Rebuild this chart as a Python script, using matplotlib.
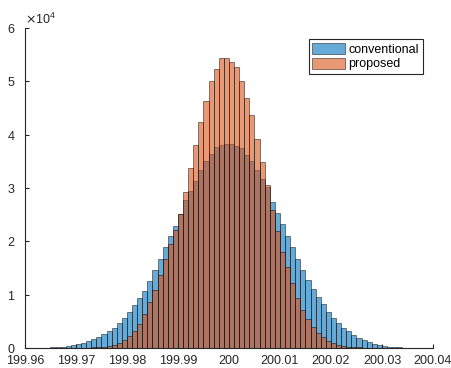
import numpy as np
import matplotlib
matplotlib.use("Agg")
import matplotlib.pyplot as plt
from matplotlib.ticker import ScalarFormatter

# bin edges: 0.001 wide, 199.96 .. 200.04
bin_start = 199.96
bin_width = 0.001

# counts per bin (x 1e4)
conventional = [
    0.001, 0.002, 0.003, 0.005, 0.008, 0.012, 0.018, 0.027, 0.04, 0.05,
    0.075, 0.10, 0.13, 0.16, 0.21, 0.26, 0.31, 0.37, 0.47, 0.56,
    0.67, 0.81, 0.93, 1.07, 1.26, 1.46, 1.67, 1.89, 2.10, 2.28,
    2.52, 2.77, 2.95, 3.13, 3.33, 3.51, 3.63, 3.76, 3.80, 3.83,
    3.82, 3.78, 3.74, 3.62, 3.50, 3.33, 3.16, 3.01, 2.74, 2.53,
    2.32, 2.10, 1.90, 1.67, 1.47, 1.27, 1.10, 0.95, 0.82, 0.68,
    0.57, 0.47, 0.38, 0.32, 0.24, 0.19, 0.15, 0.11, 0.075, 0.05,
    0.035, 0.025, 0.017, 0.011, 0.007, 0.005, 0.003, 0.002, 0.001, 0.001,
]
proposed = [
    0.0, 0.0, 0.0, 0.0, 0.0, 0.0, 0.0, 0.001, 0.001, 0.002,
    0.003, 0.005, 0.008, 0.012, 0.018, 0.026, 0.04, 0.06, 0.10, 0.15,
    0.22, 0.31, 0.45, 0.64, 0.86, 1.08, 1.36, 1.66, 1.95, 2.22,
    2.52, 2.92, 3.37, 3.80, 4.24, 4.63, 5.01, 5.22, 5.44, 5.44,
    5.36, 5.27, 5.01, 4.69, 4.36, 3.91, 3.49, 3.05, 2.58, 2.20,
    1.80, 1.52, 1.21, 0.94, 0.72, 0.54, 0.40, 0.29, 0.20, 0.14,
    0.09, 0.06, 0.04, 0.025, 0.015, 0.01, 0.005, 0.003, 0.002, 0.001,
    0.0, 0.0, 0.0, 0.0, 0.0, 0.0, 0.0, 0.0, 0.0, 0.0,
]

x_ticks = [199.96, 199.97, 199.98, 199.99, 200.0, 200.01, 200.02, 200.03, 200.04]
x_labels = ["199.96", "199.97", "199.98", "199.99", "200", "200.01", "200.02", "200.03", "200.04"]

plt.rcParams["font.family"] = ["Liberation Sans", "DejaVu Sans"]
plt.rcParams["font.size"] = 9

edges = bin_start + bin_width * np.arange(len(conventional))

fig = plt.figure(figsize=(4.51, 3.68), dpi=100)
ax = fig.add_axes([0.0554, 0.0543, 0.9046, 0.870])

blue = (0.0, 0.447, 0.741, 0.6)
orange = (0.85, 0.325, 0.098, 0.6)
edge = (0.0, 0.0, 0.0, 0.55)

ax.bar(edges, np.array(conventional) * 1e4, width=bin_width, align="edge",
       color=blue, edgecolor=edge, linewidth=0.6, label="conventional")
ax.bar(edges, np.array(proposed) * 1e4, width=bin_width, align="edge",
       color=orange, edgecolor=edge, linewidth=0.6, label="proposed")

ax.set_xlim(199.96, 200.04)
ax.set_ylim(0, 6e4)
ax.set_xticks(x_ticks)
ax.set_xticklabels(x_labels)
ax.set_yticks(np.arange(0, 7) * 1e4)

fmt = ScalarFormatter(useMathText=True)
fmt.set_powerlimits((4, 4))
ax.yaxis.set_major_formatter(fmt)

for s in ("top", "right"):
    ax.spines[s].set_visible(False)
for s in ("left", "bottom"):
    ax.spines[s].set_color("#262626")
    ax.spines[s].set_linewidth(0.8)
ax.tick_params(direction="in", length=3, width=0.8, colors="#262626", labelcolor="#262626")
ax.tick_params(axis="x", pad=5)
ax.tick_params(axis="y", pad=7)

leg = ax.legend(loc="upper right", bbox_to_anchor=(0.975, 0.965), fancybox=False,
                edgecolor="#262626", framealpha=1, handlelength=2.6, handleheight=1.0,
                handletextpad=0.3, borderpad=0.3, labelspacing=0.15, borderaxespad=0)
leg.get_frame().set_linewidth(0.8)

fig.savefig("out.png", dpi=100)
